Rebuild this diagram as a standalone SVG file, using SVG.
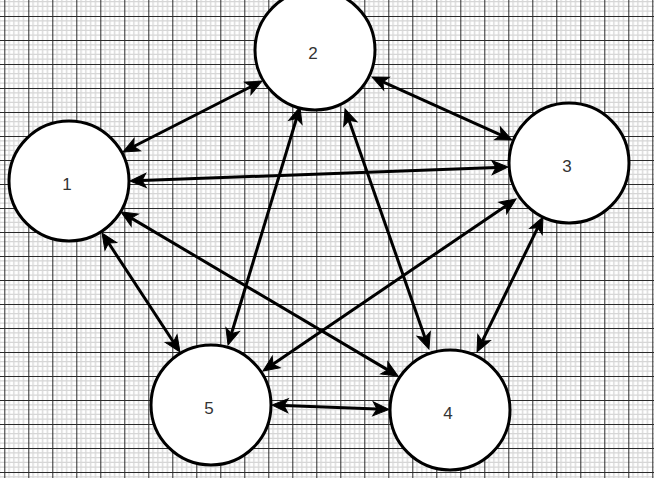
<svg xmlns="http://www.w3.org/2000/svg" width="654" height="478" viewBox="0 0 654 478">
<style>
.node{fill:#ffffff;stroke:#000000;stroke-width:3}
.lbl{font-family:"Liberation Sans",Arial,sans-serif;font-size:17px;fill:#333333;text-anchor:middle}
.edge{stroke:#000000;stroke-width:3;fill:none;marker-start:url(#ah);marker-end:url(#ah)}
.minor{stroke:#d6d6d6;stroke-width:1.3}
.major{stroke:#2a2a2a;stroke-width:1}
</style>
<defs>
<marker id="ah" markerUnits="userSpaceOnUse" orient="auto-start-reverse" viewBox="-5 -8 18 16" markerWidth="18" markerHeight="16" refX="0" refY="0" overflow="visible">
<path d="M12,0 L-4,-7 L0,0 L-4,7 Z" fill="#000000" stroke="#000000" stroke-width="1" stroke-linejoin="miter"/>
</marker>
<pattern id="grid" patternUnits="userSpaceOnUse" x="4.3" y="16" width="24" height="24">
<rect width="24" height="24" fill="#ffffff"/>
<path class="minor" d="M4.8,0V24M9.6,0V24M14.4,0V24M19.2,0V24M0,4.8H24M0,9.6H24M0,14.4H24M0,19.2H24"/>
<path class="major" d="M0.5,0V24M0,0.5H24"/>
</pattern>
</defs>
<rect x="0" y="0" width="654" height="478" fill="url(#grid)"/>
<g id="connectors">
<line class="edge" x1="133.7" y1="146.5" x2="251.3" y2="86.5"/>
<line class="edge" x1="142.0" y1="180.6" x2="496.0" y2="167.4"/>
<line class="edge" x1="382.9" y1="81.9" x2="501.1" y2="135.1"/>
<line class="edge" x1="108.6" y1="243.0" x2="173.4" y2="342.0"/>
<line class="edge" x1="131.3" y1="218.1" x2="387.7" y2="369.9"/>
<line class="edge" x1="296.5" y1="118.5" x2="231.5" y2="333.5"/>
<line class="edge" x1="349.0" y1="120.3" x2="425.0" y2="337.7"/>
<line class="edge" x1="506.1" y1="205.7" x2="272.9" y2="364.3"/>
<line class="edge" x1="537.7" y1="227.8" x2="482.3" y2="341.2"/>
<line class="edge" x1="284.0" y1="405.5" x2="377.0" y2="409.0"/>
</g>
<g id="node1"><circle class="node" cx="69" cy="181" r="60"/><text class="lbl" x="67" y="190">1</text></g>
<g id="node2"><circle class="node" cx="315" cy="50" r="60"/><text class="lbl" x="313" y="59">2</text></g>
<g id="node3"><circle class="node" cx="569" cy="163" r="60"/><text class="lbl" x="567" y="172">3</text></g>
<g id="node4"><circle class="node" cx="450" cy="410" r="60"/><text class="lbl" x="448" y="419">4</text></g>
<g id="node5"><circle class="node" cx="211" cy="405" r="60"/><text class="lbl" x="209" y="414">5</text></g>
</svg>
